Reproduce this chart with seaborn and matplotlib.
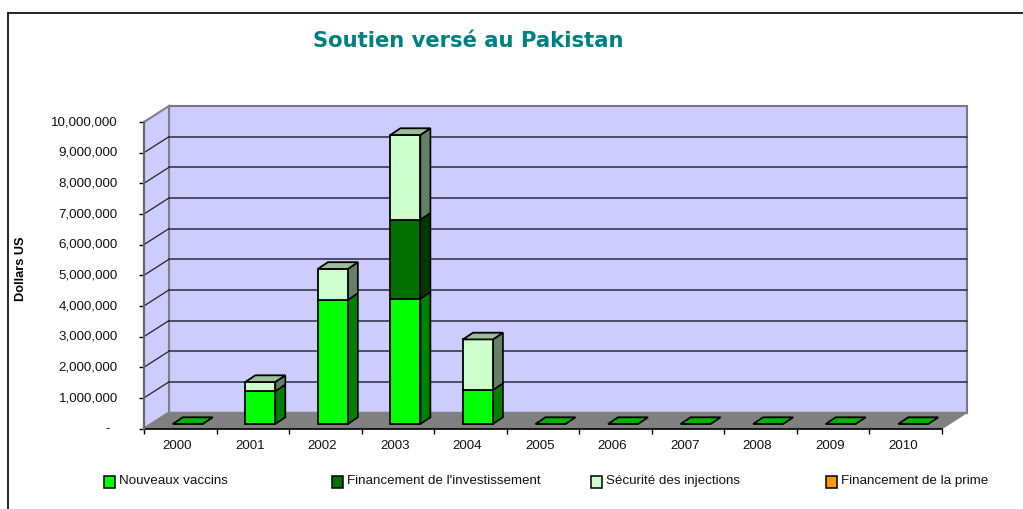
import matplotlib
matplotlib.use("Agg")
import matplotlib.pyplot as plt
from matplotlib.lines import Line2D
from matplotlib.patches import Patch, Polygon
from matplotlib.transforms import ScaledTranslation
import seaborn as sns

# Data
years = ["2000", "2001", "2002", "2003", "2004", "2005", "2006", "2007", "2008", "2009", "2010"]
nouveaux = [0, 1070000, 4050000, 4090000, 1110000, 0, 0, 0, 0, 0, 0]
investissement = [0, 0, 0, 2580000, 0, 0, 0, 0, 0, 0, 0]
securite = [0, 300000, 1010000, 2760000, 1650000, 0, 0, 0, 0, 0, 0]
prime = [0, 0, 0, 0, 0, 0, 0, 0, 0, 0, 0]
names = ["Nouveaux vaccins", "Financement de l'investissement", "Sécurité des injections", "Financement de la prime"]
colors = ["#00FF00", "#007000", "#CCFFCC", "#FF9900"]
side_colors = ["#008000", "#003800", "#668066", "#804D00"]
top_colors = ["#00B300", "#005000", "#99BF99", "#BF7300"]
yticks = list(range(0, 11000000, 1000000))
ytick_labels = ["-  "] + [f"{v:,}" for v in yticks[1:]]

W, H = 1023, 509
X_PX = 798 / 11        # pixels per category
Y_PX = 306.5 / 1e7     # pixels per dollar

# 3D look, pixel sizes turned into data units
wall_dx, wall_dy = 25 / X_PX, 16 / Y_PX
shift_x, shift_y = 7.5 / X_PX, 4.5 / Y_PX
depth_x, depth_y = 10 / X_PX, 6.7 / Y_PX

sns.set_theme(style="white")
plt.rcParams["font.family"] = ["Liberation Sans", "DejaVu Sans"]

fig = plt.figure(figsize=(W / 100, H / 100), dpi=100, facecolor="white")
ax = fig.add_axes([144 / W, (H - 428.5) / H, 798 / W, 306.5 / H])
ax.patch.set_visible(False)


def add_poly(points, face, edge, lw=1.0, z=1):
    ax.add_patch(Polygon(points, closed=True, facecolor=face, edgecolor=edge, lw=lw,
                         zorder=z, clip_on=False, joinstyle="miter"))


# walls and floor
x0, x1, top = -0.5, 10.5, 1e7
wall_edge = "#808080"
add_poly([(x0 + wall_dx, wall_dy), (x1 + wall_dx, wall_dy), (x1 + wall_dx, top + wall_dy), (x0 + wall_dx, top + wall_dy)],
         "#CCCCFF", "#777788", 1.5)
add_poly([(x0, 0), (x0 + wall_dx, wall_dy), (x0 + wall_dx, top + wall_dy), (x0, top)], "#CCCCFF", wall_edge, 1.5)
add_poly([(x0, 0), (x1, 0), (x1 + wall_dx, wall_dy), (x0 + wall_dx, wall_dy)], "#808080", "#808080", 1.0, 1.5)
for v in yticks[1:-1]:
    ax.plot([x0 + wall_dx, x1 + wall_dx], [v + wall_dy, v + wall_dy], color="#2A2A3A", lw=1.1, zorder=2, clip_on=False)
    ax.plot([x0, x0 + wall_dx], [v, v + wall_dy], color="#222222", lw=0.9, zorder=2, clip_on=False)

# stacked bars
series = [nouveaux, investissement, securite, prime]
bottom = [0] * len(years)
for i, values in enumerate(series):
    n_before = len(ax.patches)
    sns.barplot(x=years, y=values, bottom=bottom, order=years, color=colors[i], saturation=1,
                width=30 / X_PX, edgecolor="black", linewidth=1.3, ax=ax, zorder=6)
    for bar, v, b in zip(list(ax.patches)[n_before:], values, bottom):
        if v == 0:
            bar.set_visible(False)
            continue
        bar.set_x(bar.get_x() + shift_x)
        bar.set_y(b + shift_y)
        bar.set_clip_on(False)
        left = bar.get_x() + bar.get_width()
        add_poly([(left, b + shift_y), (left + depth_x, b + shift_y + depth_y),
                  (left + depth_x, b + v + shift_y + depth_y), (left, b + v + shift_y)],
                 side_colors[i], "black", 1.2, 5)
    bottom = [b + v for b, v in zip(bottom, values)]

# top faces, green when the year has no money at all
for k, total in enumerate(bottom):
    face = top_colors[0]
    if total > 0:
        face = top_colors[[j for j, s in enumerate(series) if s[k] > 0][-1]]
    left = k - 15 / X_PX + shift_x
    right = k + 15 / X_PX + shift_x
    y = total + shift_y
    add_poly([(left, y), (right, y), (right + depth_x, y + depth_y), (left + depth_x, y + depth_y)],
             face, "black", 1.3, 7)

ax.set_xlim(x0, x1)
ax.set_ylim(0, top)
ax.set_xlabel("")
ax.set_ylabel("")

# axes: ticks between the years, labels on the years
sns.despine(ax=ax, top=True, right=True)
ax.spines["left"].set_color("#666666")
ax.spines["left"].set_linewidth(1.5)
ax.spines["bottom"].set_color("black")
ax.spines["bottom"].set_linewidth(1.2)
ax.spines["left"].set_zorder(3)
ax.set_xticks([k - 0.5 for k in range(len(years) + 1)])
ax.set_xticks(range(len(years)), labels=years, minor=True)
ax.set_xticklabels([])
ax.tick_params(axis="x", which="major", bottom=True, length=3.5, width=1, color="black")
ax.tick_params(axis="x", which="minor", bottom=False, length=0, pad=8.6, labelsize=9.6, labelcolor="#111111")
ax.set_yticks(yticks, labels=ytick_labels)
ax.tick_params(axis="y", left=True, length=3.5, width=1, color="black", pad=15.4, labelsize=9.6, labelcolor="#111111")

# labels sit a little off their ticks in the original
x_nudge = ScaledTranslation(-3 / 100, 0, fig.dpi_scale_trans)
y_nudge = ScaledTranslation(0, 1.3 / 100, fig.dpi_scale_trans)
for lab in ax.get_xticklabels(minor=True):
    lab.set_transform(lab.get_transform() + x_nudge)
for lab in ax.get_yticklabels():
    lab.set_transform(lab.get_transform() + y_nudge)

fig.text(20.5 / W, 1 - 269 / H, "Dollars US", rotation=90, ha="center", va="center",
         fontsize=9.2, fontweight="bold", color="black")
fig.text(468.5 / W, 1 - 41 / H, "Soutien versé au Pakistan", ha="center", va="center",
         fontsize=15.2, fontweight="bold", color="#008080", family="DejaVu Sans")

# legend entries are spaced unevenly in the original
legend_x = [104, 332, 591, 826]
for name, col, lx in zip(names, colors, legend_x):
    leg = fig.legend(handles=[Patch(facecolor=col, edgecolor="black", lw=1.1, label=name)], loc="center left",
                     bbox_to_anchor=(lx / W, 1 - 480 / H), frameon=False, fontsize=9.6, labelcolor="#111111",
                     borderpad=0, borderaxespad=0, handlelength=0.85, handleheight=0.9, handletextpad=0.25)
    handle = leg.legend_handles[0]
    handle.set_y(handle.get_y() - 2.2)

# outer frame
fig.add_artist(Line2D([8 / W, 8 / W], [0, 1 - 13 / H], color="black", lw=1.2))
fig.add_artist(Line2D([8 / W, 1], [1 - 13 / H, 1 - 13 / H], color="black", lw=1.2))

fig.savefig("out.png", dpi=100)
